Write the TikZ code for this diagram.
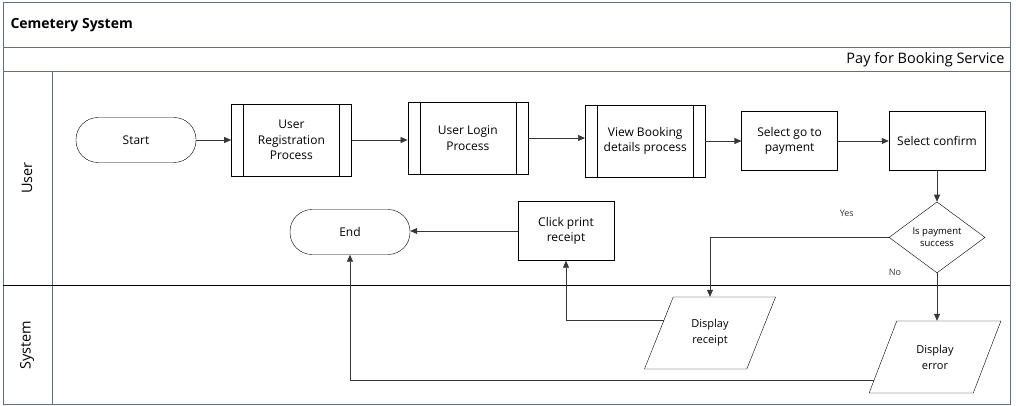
\documentclass[tikz,border=0pt]{standalone}
\usepackage{fontspec}
\setmainfont{Open Sans}
\usetikzlibrary{shapes.geometric, arrows.meta, positioning, calc}
\definecolor{lanegray}{RGB}{96,112,128}
\definecolor{linegray}{RGB}{55,55,55}
\tikzset{
  basebox/.style={rectangle,draw=black,align=center,fill=white,inner sep=2pt,font=\fontsize{12}{15.5}\selectfont},
  termnode/.style={basebox,rounded corners=22pt,minimum width=120pt,minimum height=45pt},
  procnode/.style={basebox,minimum width=96pt,minimum height=59pt},
  subnode/.style={basebox,minimum width=120pt,minimum height=72pt,
    path picture={\draw ([xshift=12pt]path picture bounding box.north west) -- ([xshift=12pt]path picture bounding box.south west)
      ([xshift=-12pt]path picture bounding box.north east) -- ([xshift=-12pt]path picture bounding box.south east);}},
  decnode/.style={diamond,draw=black,fill=white,align=center,inner sep=0pt,font=\fontsize{9.5}{12}\selectfont,minimum width=96pt,minimum height=71pt},
  ionode/.style={trapezium,trapezium left angle=63,trapezium right angle=117,trapezium stretches=true,draw=black,fill=white,align=center,
    font=\fontsize{11}{16}\selectfont,minimum width=132pt,minimum height=72pt},
  lbl/.style={font=\fontsize{9}{11}\selectfont},
  headtxt/.style={font=\fontsize{14.5}{17}\selectfont},
  arr/.style={-{Triangle[length=7pt,width=6pt]},line width=0.7pt,color=linegray}
}

\begin{document}
\begin{tikzpicture}[x=1pt,y=-1pt,node distance=36pt and 36pt]
  \useasboundingbox (0,0) rectangle (1016,406);
  % lanes
  \draw[lanegray,line width=1pt] (3,3) rectangle (1010,404);
  \draw[lanegray,line width=1pt] (3,48) -- (1010,48) (3,72) -- (1010,72) (52,72) -- (52,404);
  \draw[black,line width=0.7pt] (3,285) -- (1010,285);
  \node[anchor=west,font=\fontsize{14}{17}\selectfont\bfseries] (title) at (7,25) {Cemetery System};
  \node[anchor=east,headtxt] (sub) at (1008,60) {Pay for Booking Service};
  \node[rotate=90,headtxt] (laneuser) at (27,178) {User};
  \node[rotate=90,headtxt] (lanesys) at (27,345) {System};

  % user lane
  \node[termnode] (start) at (136,140) {Start};
  \node[subnode,right=35pt of start] (reg) {User\\Registration\\Process};
  \node[subnode,right=56pt of reg,yshift=2pt] (login) {User Login\\Process};
  \node[subnode,right=57pt of login,yshift=-3pt] (view) {View Booking\\details process};
  \node[procnode,right=36pt of view] (selpay) {Select go to\\payment};
  \node[procnode,right=51pt of selpay] (confirm) {Select confirm};
  \node[decnode,below=31pt of confirm] (ispaid) {Is payment\\success};
  \node[procnode] (print) at (566,231) {Click print\\receipt};
  \node[termnode] (end) at (350,232) {End};

  % system lane
  \node[ionode] (showrec) at (710,333) {Display\\receipt};
  \node[ionode] (showerr) at (935,357) {Display\\error};

  \draw[arr] (start) -- (reg);
  \draw[arr] (reg.east) -- (reg.east -| login.west);
  \draw[arr] (login.east) -- (login.east -| view.west);
  \draw[arr] (view) -- (selpay);
  \draw[arr] (selpay) -- (confirm);
  \draw[arr] (confirm) -- (ispaid);
  \draw[arr] (ispaid.west) -| (showrec.north) node[pos=0,lbl,xshift=-42pt,yshift=24pt]{Yes};
  \draw[arr] (ispaid.south) -- (showerr.north -| ispaid.south) node[pos=0,lbl,xshift=-42pt,yshift=1pt]{No};
  \draw[arr] ($(showrec.top left corner)!0.33!(showrec.bottom left corner)$) -| (print.south);
  \draw[arr] (print.west) -- (print.west -| end.east);
  \draw[arr] ($(showerr.top left corner)!0.82!(showerr.bottom left corner)$) -| (end.south);
\end{tikzpicture}
\end{document}
